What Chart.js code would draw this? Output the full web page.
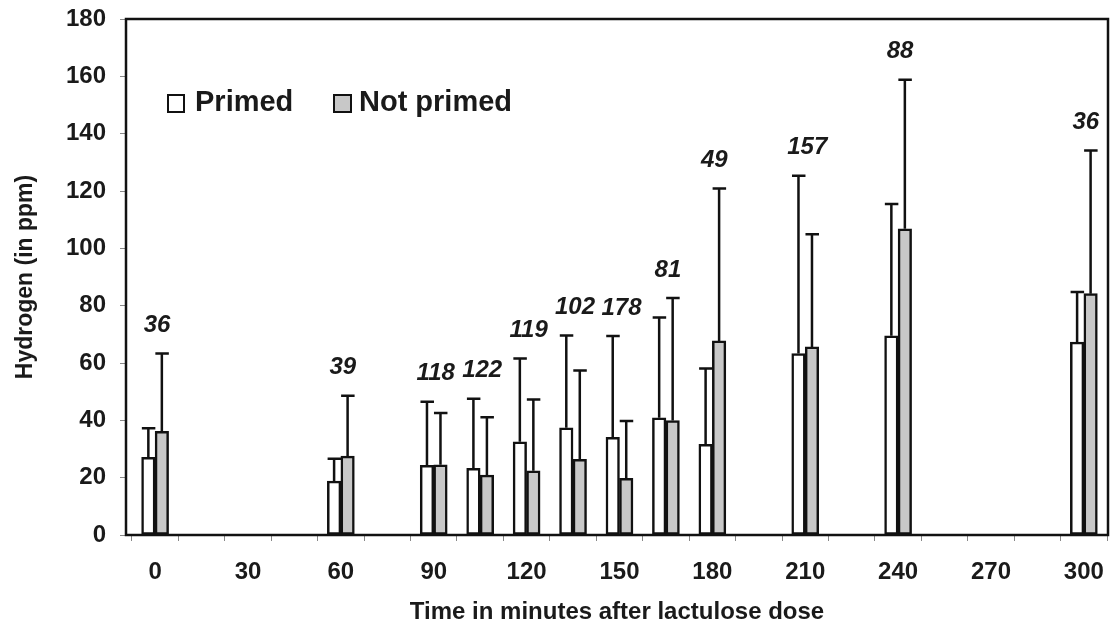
<!DOCTYPE html>
<html>
<head>
<meta charset="utf-8">
<title>Hydrogen</title>
<script src="https://cdn.jsdelivr.net/npm/chart.js@4.4.1/dist/chart.umd.min.js"></script>
<style>
    html, body { margin: 0; padding: 0; background: #ffffff; }
    #contenedor { width: 1117px; height: 627px; }
</style>
</head>
<body>
<div id="contenedor"><canvas id="grafico" width="1117" height="627"></canvas></div>
<script>
// minutos despues de la dosis de lactulosa
var tiempos = [0, 60, 90, 105, 120, 135, 150, 165, 180, 210, 240, 300];
// medias (ppm) y extremo superior de la barra de error
var primed = [27.1, 18.8, 24.3, 23.3, 32.5, 37.4, 34.1, 40.9, 31.6, 63.3, 69.5, 67.3];
var primedTop = [37.2, 26.6, 46.5, 47.5, 61.6, 69.6, 69.4, 75.9, 58.1, 125.3, 115.5, 84.8];
var notPrimed = [36.2, 27.5, 24.5, 20.9, 22.4, 26.4, 19.8, 39.9, 67.7, 65.6, 106.8, 84.2];
var notPrimedTop = [63.3, 48.6, 42.6, 41.1, 47.3, 57.4, 39.8, 82.7, 120.9, 104.9, 158.8, 134.1];
// numero de pruebas en cada tiempo
var nPruebas = ['36', '39', '118', '122', '119', '102', '178', '81', '49', '157', '88', '36'];
var series = ['Primed', 'Not primed'];
var xTicks = [0, 15, 30, 45, 60, 75, 90, 105, 120, 135, 150, 165, 180, 195, 210, 225, 240, 255, 270, 285, 300];
var xLabels = [0, 30, 60, 90, 120, 150, 180, 210, 240, 270, 300];

var fuente = '"Liberation Sans", Arial, sans-serif';
var gris = '#c8c8c8';

function puntos(valores) {
    var datos = [];
    for (var i in valores) {
        datos.push({x: tiempos[i], y: valores[i]});
    }
    return datos;
}

var extras = {
    id: 'extras',
    afterDatasetsDraw: function (chart) {
        var ctx = chart.ctx;
        var area = chart.chartArea;
        var ys = chart.scales.y;
        var tops = [primedTop, notPrimedTop];

        // barras de error (solo hacia arriba)
        ctx.save();
        ctx.strokeStyle = '#111111';
        ctx.lineWidth = 2.5;
        for (var d = 0; d < 2; d++) {
            var meta = chart.getDatasetMeta(d);
            for (var i = 0; i < meta.data.length; i++) {
                var bar = meta.data[i];
                var yTop = ys.getPixelForValue(tops[d][i]);
                ctx.beginPath();
                ctx.moveTo(bar.x, bar.y);
                ctx.lineTo(bar.x, yTop);
                ctx.moveTo(bar.x - 6.5, yTop);
                ctx.lineTo(bar.x + 7, yTop);
                ctx.stroke();
            }
        }

        // numeros en cursiva encima de cada grupo
        ctx.fillStyle = '#1a1a1a';
        ctx.font = 'italic bold 24px ' + fuente;
        ctx.textAlign = 'center';
        ctx.textBaseline = 'middle';
        var m0 = chart.getDatasetMeta(0);
        var m1 = chart.getDatasetMeta(1);
        for (var j = 0; j < nPruebas.length; j++) {
            var cx = (m0.data[j].x + m1.data[j].x) / 2 + 2;
            var alto = Math.max(primedTop[j], notPrimedTop[j]);
            ctx.fillText(nPruebas[j], cx, ys.getPixelForValue(alto) - 28);
        }

        // marco del grafico
        ctx.lineWidth = 2.5;
        ctx.strokeRect(area.left, area.top, area.right - area.left, area.bottom - area.top);

        // leyenda
        ctx.font = 'bold 29px ' + fuente;
        ctx.textAlign = 'left';
        ctx.lineWidth = 2;
        ctx.fillStyle = '#ffffff';
        ctx.fillRect(168, 95, 16, 17);
        ctx.strokeRect(168, 95, 16, 17);
        ctx.fillStyle = gris;
        ctx.fillRect(334, 95, 17, 17);
        ctx.strokeRect(334, 95, 17, 17);
        ctx.fillStyle = '#1a1a1a';
        ctx.fillText(series[0], 195, 103);
        ctx.fillText(series[1], 359, 103);
        ctx.restore();
    }
};

function graficoHidrogeno() {
    var ctx = document.getElementById('grafico').getContext('2d');
    new Chart(ctx, {
        type: 'bar',
        data: {
            datasets: [{
                    label: series[0],
                    data: puntos(primed),
                    backgroundColor: '#ffffff',
                    borderColor: '#111111',
                    borderWidth: 2.5,
                    borderSkipped: false,
                    barThickness: 13.5
                }, {
                    label: series[1],
                    data: puntos(notPrimed),
                    backgroundColor: gris,
                    borderColor: '#111111',
                    borderWidth: 2.5,
                    borderSkipped: false,
                    barThickness: 13.5
                }]
        },
        options: {
            responsive: false,
            animation: false,
            layout: {padding: {top: 19, right: 9, left: 0, bottom: 0}},
            plugins: {
                legend: {display: false},
                tooltip: {enabled: false}
            },
            scales: {
                x: {
                    type: 'linear',
                    offset: false,
                    min: -9.4,
                    max: 307.8,
                    afterBuildTicks: function (axis) {
                        axis.ticks = xTicks.map(function (v) { return {value: v}; });
                    },
                    afterFit: function (axis) {
                        axis.height = 92;
                        axis.paddingLeft = 0;
                        axis.paddingRight = 0;
                    },
                    grid: {display: true, drawOnChartArea: false, drawTicks: true, tickLength: 6, color: '#888888'},
                    border: {display: false},
                    ticks: {
                        autoSkip: false,
                        maxRotation: 0,
                        padding: 17,
                        color: '#1a1a1a',
                        font: {family: fuente, size: 24, weight: 'bold'},
                        callback: function (v) { return xLabels.indexOf(v) >= 0 ? v : ''; }
                    },
                    title: {
                        display: true,
                        text: 'Time in minutes after lactulose dose',
                        color: '#1a1a1a',
                        font: {family: fuente, size: 24, weight: 'bold'},
                        padding: {top: 0, bottom: 0}
                    }
                },
                y: {
                    min: 0,
                    max: 180,
                    afterFit: function (axis) {
                        axis.width = 126;
                        axis.paddingTop = 0;
                        axis.paddingBottom = 0;
                    },
                    grid: {display: true, drawOnChartArea: false, drawTicks: true, tickLength: 6, color: '#888888'},
                    border: {display: false},
                    ticks: {
                        stepSize: 20,
                        padding: 14,
                        color: '#1a1a1a',
                        font: {family: fuente, size: 24, weight: 'bold'}
                    },
                    title: {
                        display: true,
                        text: 'Hydrogen (in ppm)',
                        color: '#1a1a1a',
                        font: {family: fuente, size: 23, weight: 'bold'},
                        padding: {top: 12, bottom: 0}
                    }
                }
            }
        },
        plugins: [extras]
    });
}

graficoHidrogeno();
</script>
</body>
</html>
